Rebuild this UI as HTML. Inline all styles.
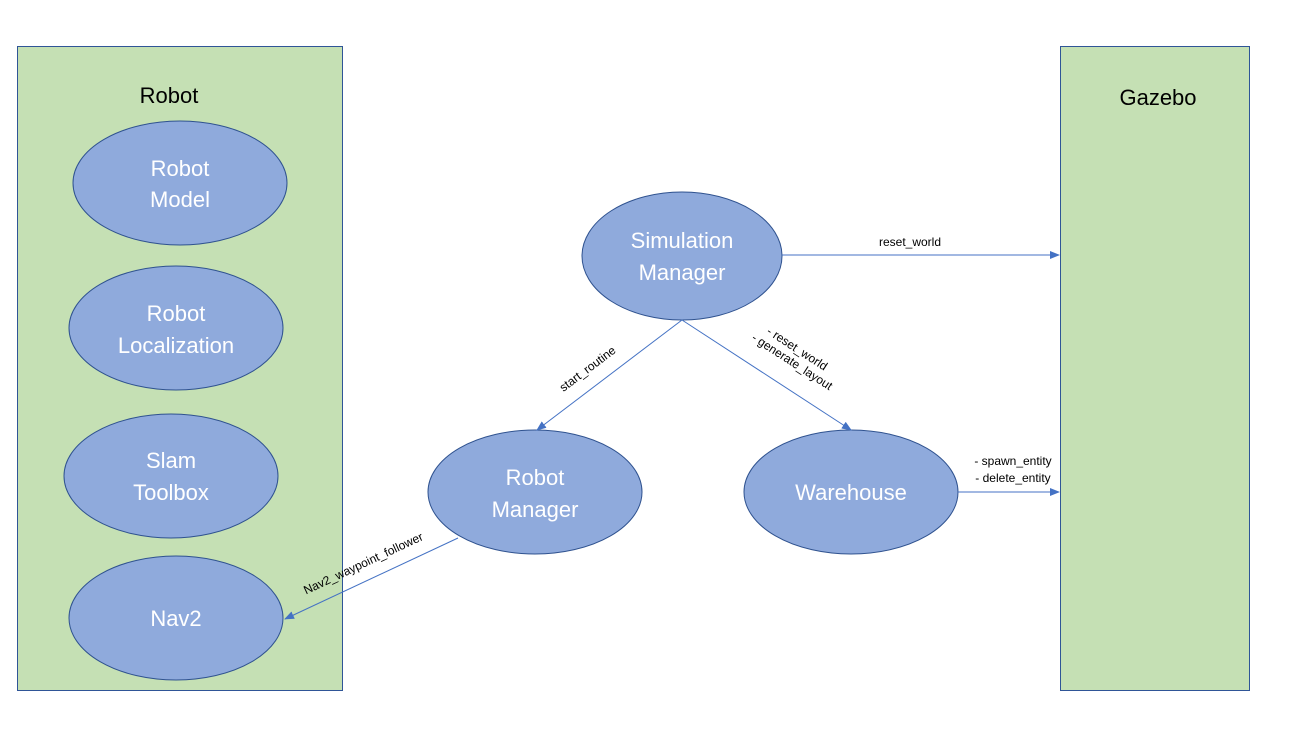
<!DOCTYPE html>
<html><head><meta charset="utf-8"><style>html,body{margin:0;padding:0;background:#fff}svg{display:block}</style></head><body>
<svg width="1305" height="736" xmlns="http://www.w3.org/2000/svg" font-family="Liberation Sans, sans-serif">
<defs><marker id="a" markerWidth="10" markerHeight="8" refX="9" refY="4" orient="auto" markerUnits="userSpaceOnUse"><path d="M0,0 L10,4 L0,8 z" fill="#4472C4"/></marker></defs>
<rect x="17.5" y="46.5" width="325" height="644" fill="#C5E0B4" stroke="#2F5597"/>
<rect x="1060.5" y="46.5" width="189" height="644" fill="#C5E0B4" stroke="#2F5597"/>
<text x="169" y="103" font-size="22" text-anchor="middle">Robot</text>
<text x="1158" y="105" font-size="22" text-anchor="middle">Gazebo</text>
<g fill="#8FAADC" stroke="#2F528F" stroke-width="1">
<ellipse cx="180" cy="183" rx="107" ry="62"/>
<ellipse cx="176" cy="328" rx="107" ry="62"/>
<ellipse cx="171" cy="476" rx="107" ry="62"/>
<ellipse cx="176" cy="618" rx="107" ry="62"/>
<ellipse cx="682" cy="256" rx="100" ry="64"/>
<ellipse cx="535" cy="492" rx="107" ry="62"/>
<ellipse cx="851" cy="492" rx="107" ry="62"/>
</g>
<g fill="#fff" font-size="22" text-anchor="middle">
<text x="180" y="176">Robot</text><text x="180" y="207">Model</text>
<text x="176" y="321">Robot</text><text x="176" y="353">Localization</text>
<text x="171" y="468">Slam</text><text x="171" y="500">Toolbox</text>
<text x="176" y="626">Nav2</text>
<text x="682" y="248">Simulation</text><text x="682" y="280">Manager</text>
<text x="535" y="485">Robot</text><text x="535" y="517">Manager</text>
<text x="851" y="500">Warehouse</text>
</g>
<g stroke="#4472C4" stroke-width="1" fill="none" marker-end="url(#a)">
<line x1="782" y1="255" x2="1059" y2="255"/>
<line x1="682" y1="320" x2="537" y2="430"/>
<line x1="682" y1="320" x2="851" y2="430"/>
<line x1="958" y1="492" x2="1059" y2="492"/>
<line x1="458" y1="538" x2="285" y2="619"/>
</g>
<g font-size="12" fill="#000">
<text x="910" y="246" text-anchor="middle">reset_world</text>
<text x="1013" y="465" text-anchor="middle">- spawn_entity</text>
<text x="1013" y="482" text-anchor="middle">- delete_entity</text>
<text transform="translate(590,372) rotate(-37)" text-anchor="middle">start_routine</text>
<text transform="translate(795,352) rotate(33)" text-anchor="middle">- reset_world</text>
<text transform="translate(790,365) rotate(33)" text-anchor="middle">- generate_layout</text>
<text transform="translate(365,567) rotate(-25)" text-anchor="middle">Nav2_waypoint_follower</text>
</g>
</svg>
</body></html>
